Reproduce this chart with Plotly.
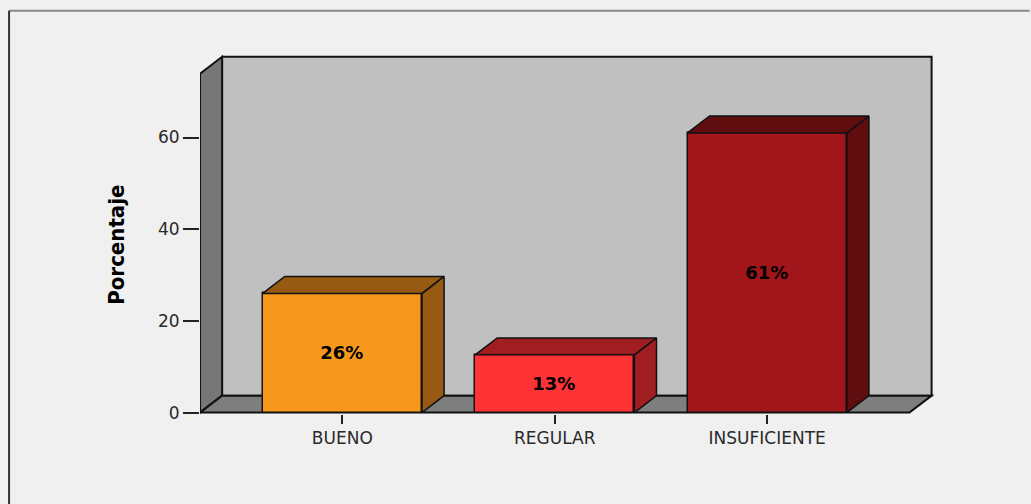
import plotly.graph_objects as go

# ---------------- data ----------------
categories = ["BUENO", "REGULAR", "INSUFICIENTE"]
percentages = [26, 12.6, 61]
bar_labels = ["26%", "13%", "61%"]
y_tick_values = [0, 20, 40, 60]
y_title = "Porcentaje"

# ---------------- style ----------------
front_colors = ["#F7981D", "#FE3336", "#A0161A"]
shade_colors = ["#975A13", "#A01E22", "#5F0D0F"]
BACK_WALL = "#C0C0C0"
SIDE_WALL = "#777777"
FLOOR = "#7E7E7E"
PAGE_BG = "#F0F0F0"
OUTLINE = "#111111"

BAR_W = 0.75
DX = 0.104      # 3D depth, x data units
DY = 3.7        # 3D depth, y data units
X_FRONT_L, X_FRONT_R = -0.67, 2.67
X_RANGE = [-0.67, 2.79]
Y_TOP = 77.6
Y_RANGE = [-0.3, 78.0]

W, H = 1031, 504
L_M = 200
PX_X = 212.5
PX_Y = 4.588
plot_w = (X_RANGE[1] - X_RANGE[0]) * PX_X
plot_h = (Y_RANGE[1] - Y_RANGE[0]) * PX_Y
T_M = 57 - (Y_RANGE[1] - Y_TOP) * PX_Y
R_M = W - L_M - plot_w
B_M = H - T_M - plot_h

fig = go.Figure()


def poly_path(pts):
    return "M " + " L ".join(f"{x},{y}" for x, y in pts) + " Z"


# walls (below traces)
xb_l = X_FRONT_L + DX
xb_r = X_FRONT_R + DX
shapes = [
    dict(type="path", xref="x", yref="y", layer="below",
         path=poly_path([(xb_l, DY), (xb_r, DY), (xb_r, Y_TOP), (xb_l, Y_TOP)]),
         fillcolor=BACK_WALL, line=dict(color=OUTLINE, width=2)),
    dict(type="path", xref="x", yref="y", layer="below",
         path=poly_path([(X_FRONT_L, 0), (xb_l, DY), (xb_l, Y_TOP), (X_FRONT_L, Y_TOP - DY)]),
         fillcolor=SIDE_WALL, line=dict(color=OUTLINE, width=2)),
    dict(type="path", xref="x", yref="y", layer="below",
         path=poly_path([(X_FRONT_L, 0), (X_FRONT_R, 0), (xb_r, DY), (xb_l, DY)]),
         fillcolor=FLOOR, line=dict(color=OUTLINE, width=2)),
]

# outer frame (partially visible: top and left edges only)
fx0 = (9 - L_M) / plot_w
fx1 = (W - 1 - L_M) / plot_w
fy1 = (T_M + plot_h - 11) / plot_h
shapes.append(dict(type="line", xref="paper", yref="paper", x0=fx0, x1=fx1, y0=fy1, y1=fy1,
                   line=dict(color="#8A8A8A", width=2)))
shapes.append(dict(type="line", xref="paper", yref="paper", x0=fx0, x1=fx0, y0=fy1, y1=-0.5,
                   line=dict(color="#333333", width=2)))

xs = list(range(len(categories)))

# front faces
fig.add_trace(go.Bar(
    x=xs, y=percentages, width=BAR_W,
    marker=dict(color=front_colors, line=dict(color=OUTLINE, width=1.5)),
    text=bar_labels, textposition="inside", insidetextanchor="middle",
    textangle=0, constraintext="none",
    textfont=dict(family="DejaVu Sans", size=18, color="#000000", weight="bold"),
    hoverinfo="skip", showlegend=False,
))

# side & top faces
for i, v in enumerate(percentages):
    xl = xs[i] - BAR_W / 2
    xr = xs[i] + BAR_W / 2
    side = [(xr, 0), (xr + DX, DY), (xr + DX, v + DY), (xr, v), (xr, 0)]
    top = [(xl, v), (xr, v), (xr + DX, v + DY), (xl + DX, v + DY), (xl, v)]
    for pts in (side, top):
        fig.add_trace(go.Scatter(
            x=[p[0] for p in pts], y=[p[1] for p in pts],
            mode="lines", fill="toself", fillcolor=shade_colors[i],
            line=dict(color=OUTLINE, width=1.5),
            hoverinfo="skip", showlegend=False,
        ))

fig.update_layout(
    width=W, height=H,
    margin=dict(l=L_M, r=R_M, t=T_M, b=B_M, pad=0),
    paper_bgcolor=PAGE_BG, plot_bgcolor=PAGE_BG,
    shapes=shapes,
    bargap=0,
    xaxis=dict(
        range=X_RANGE, tickmode="array", tickvals=xs, ticktext=categories,
        ticks="outside", ticklen=9, tickwidth=1.5, tickcolor="#222222",
        showgrid=False, zeroline=False, showline=False,
        tickfont=dict(family="DejaVu Sans", size=17, color="#2A2A2A"),
        fixedrange=True,
    ),
    yaxis=dict(
        range=Y_RANGE, tickmode="array", tickvals=y_tick_values,
        ticks="outside", ticklen=16, tickwidth=1.5, tickcolor="#222222",
        showgrid=False, zeroline=False, showline=False,
        tickfont=dict(family="DejaVu Sans", size=17, color="#2A2A2A"),
        fixedrange=True,
    ),
    annotations=[dict(
        text=y_title, textangle=-90, showarrow=False,
        xref="paper", yref="paper",
        x=(117 - L_M) / plot_w, y=(T_M + plot_h - 245) / plot_h,
        xanchor="center", yanchor="middle",
        font=dict(family="Liberation Sans Narrow, DejaVu Sans Condensed, Arial Narrow, sans-serif",
                  size=22, color="#000000", weight="bold"),
    )],
)

fig.write_html("out.html", config={"displayModeBar": False},
               post_script="document.documentElement.style.overflow='hidden';document.body.style.margin='0';document.body.style.overflow='hidden';")
